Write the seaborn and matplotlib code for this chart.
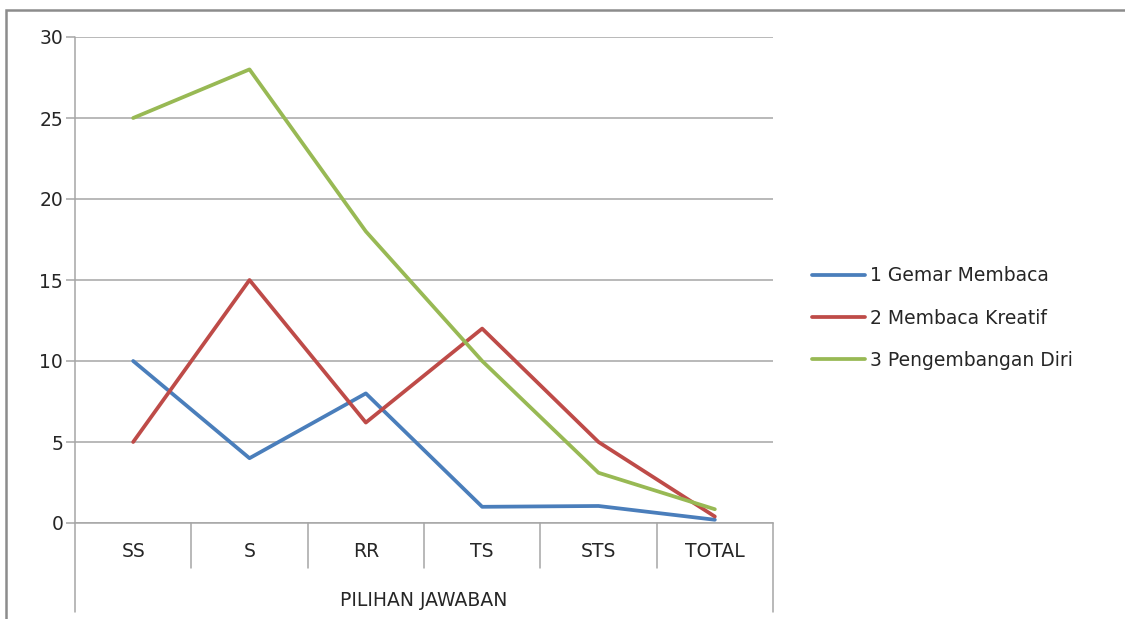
import matplotlib
matplotlib.use("Agg")
import matplotlib.pyplot as plt
import matplotlib.patches as mpatches
from matplotlib.lines import Line2D
import seaborn as sns
import pandas as pd

categories = ["SS", "S", "RR", "TS", "STS", "TOTAL"]
series_names = ["1 Gemar Membaca", "2 Membaca Kreatif", "3 Pengembangan Diri"]
gemar_membaca = [10, 4, 8, 1, 1.05, 0.2]
membaca_kreatif = [5, 15, 6.2, 12, 5, 0.4]
pengembangan_diri = [25, 28, 18, 10, 3.1, 0.85]
colors = ["#4A7EBB", "#BE4B48", "#98B954"]
y_ticks = [0, 5, 10, 15, 20, 25, 30]
axis_title = "PILIHAN JAWABAN"

rows = []
for name, vals in zip(series_names, [gemar_membaca, membaca_kreatif, pengembangan_diri]):
    for i, (c, v) in enumerate(zip(categories, vals)):
        rows.append({"pos": i, "cat": c, "value": v, "series": name})
df = pd.DataFrame(rows)

sns.set_theme(style="white")
plt.rcParams["font.family"] = ["DejaVu Sans"]
TXT = "#262626"
GRID = "#A6A6A6"
FS = 13.5

fig = plt.figure(figsize=(11.25, 6.19), dpi=100)
W, H = 1125, 619
ax = fig.add_axes([75 / W, 1 - 523 / H, (773 - 75) / W, (523 - 37) / H])

sns.lineplot(data=df, x="pos", y="value", hue="series", palette=colors,
             linewidth=2.7, sort=False, ax=ax, legend=True)

ax.set_xlim(-0.5, len(categories) - 0.5)
ax.set_ylim(0, 30)
ax.set_yticks(y_ticks)
ax.set_yticklabels([str(t) for t in y_ticks], fontsize=FS, color=TXT)
ax.yaxis.grid(True, color=GRID, linewidth=1.1)
ax.set_axisbelow(True)
ax.tick_params(axis="y", length=6.5, width=1.1, color=GRID, pad=2, direction="out", left=True)
ax.set_xticks(range(len(categories)))
ax.set_xticklabels(categories, fontsize=FS, color=TXT)
ax.tick_params(axis="x", length=0, pad=14)
ax.set_xlabel("")
ax.set_ylabel("")
for s in ["top", "right", "left"]:
    ax.spines[s].set_visible(False)
ax.spines["bottom"].set_color(GRID)
ax.spines["bottom"].set_linewidth(1.1)

# vertical axis line extending through the category area
h_sep = -45 / 486
h_full = -(612 - 523) / 486
ax.add_line(Line2D([0, 0], [1, h_full], transform=ax.transAxes, color=GRID,
                   linewidth=1.1, clip_on=False))
ax.add_line(Line2D([1, 1], [0, h_full], transform=ax.transAxes, color=GRID,
                   linewidth=1.1, clip_on=False))
for i in range(1, len(categories)):
    xa = i / len(categories)
    ax.add_line(Line2D([xa, xa], [0, h_sep], transform=ax.transAxes, color=GRID,
                       linewidth=1.1, clip_on=False))
ax.text(0.5, -(600 - 523) / 486, axis_title, transform=ax.transAxes, ha="center",
        va="center", fontsize=FS, color=TXT)

# legend
handles, labels = ax.get_legend_handles_labels()
ax.legend_.remove()
fig.legend(handles, labels, loc="center left", bbox_to_anchor=(795 / W, 1 - 318 / H),
           frameon=False, fontsize=FS, handlelength=2.85, handletextpad=0.25,
           labelspacing=1.25, labelcolor=TXT)

# outer border
fig.add_artist(mpatches.Rectangle((6 / W, -0.1), 1.2, (1 - 10 / H) + 0.1,
                                  transform=fig.transFigure, fill=False,
                                  edgecolor="#8C8C8C", linewidth=1.8))

fig.savefig("out.png", dpi=100)
